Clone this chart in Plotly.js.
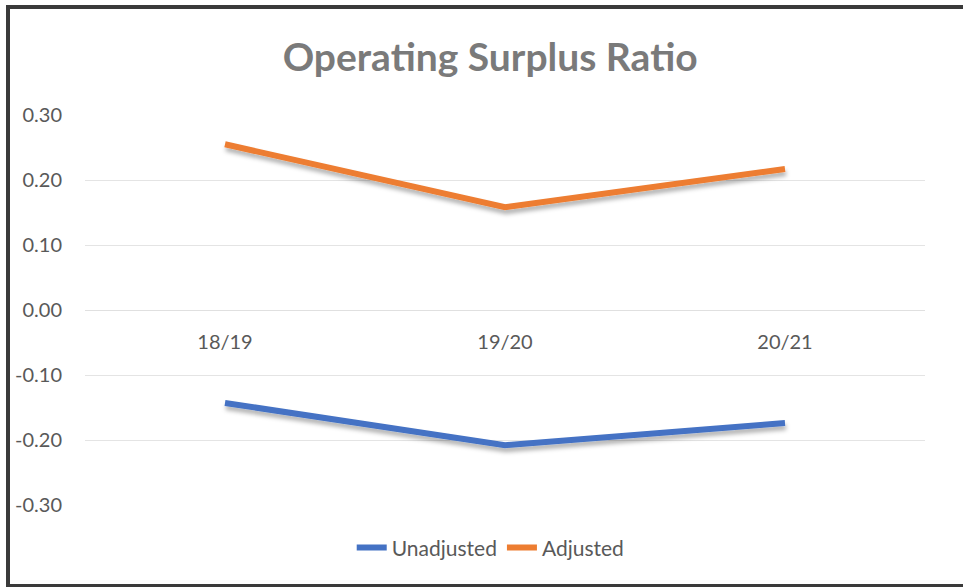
<!DOCTYPE html>
<html>
<head>
<meta charset="utf-8">
<script src="https://cdn.plot.ly/plotly-3.0.1.min.js"></script>
<style>
  html, body { margin: 0; padding: 0; background: #ffffff; }
  #wrap { position: relative; width: 963px; height: 587px; overflow: hidden; }
  #chart { width: 963px; height: 587px; }
  #frame { position: absolute; left: 6px; top: 5px; width: 980px; height: 575px;
           border-left: 4px solid #3a3a3a; border-top: 4px solid #3a3a3a; border-bottom: 4px solid #3a3a3a;
           pointer-events: none; }
</style>
</head>
<body>
<div id="wrap">
  <div id="chart"></div>
  <div id="frame"></div>
</div>
<script>
const categories = ["18/19", "19/20", "20/21"];
const unadjusted = [-0.143, -0.208, -0.174];
const adjusted = [0.255, 0.158, 0.217];
const yTickVals = [-0.3, -0.2, -0.1, 0, 0.1, 0.2, 0.3];
const yTickText = ["-0.30", "-0.20", "-0.10", "0.00", "0.10", "0.20", "0.30"];
const chartTitle = "Operating Surplus Ratio";

const traces = [
  { x: categories, y: unadjusted, name: "Unadjusted", type: "scatter", mode: "lines",
    line: { color: "#4472C4", width: 6 } },
  { x: categories, y: adjusted, name: "Adjusted", type: "scatter", mode: "lines",
    line: { color: "#ED7D31", width: 6 } }
];

const layout = {
  width: 963, height: 587,
  paper_bgcolor: "#ffffff", plot_bgcolor: "#ffffff",
  margin: { l: 85, r: 38, t: 115, b: 82 },
  font: { family: "Lato, 'Open Sans', sans-serif", color: "#595959", size: 20 },
  title: { text: chartTitle, x: 0.509, xanchor: "center", y: 1 - 57/587, yanchor: "middle", yref: "container",
           font: { family: "Lato, 'Open Sans', sans-serif", size: 39, color: "#7a7a7a", weight: "bold" } },
  xaxis: { type: "category", range: [-0.5, 2.5], anchor: "free", position: 0.5,
           showgrid: false, zeroline: false, showline: false, ticks: "",
           ticklabelstandoff: 18, tickfont: { size: 20, color: "#595959" } },
  yaxis: { range: [-0.3, 0.3], tickvals: yTickVals, ticktext: yTickText,
           showgrid: true, gridcolor: "#e4e4e4", gridwidth: 1, zeroline: true, zerolinecolor: "#e0e0e0", zerolinewidth: 1,
           showline: false, ticks: "", ticklabelstandoff: 22, tickfont: { size: 20, color: "#595959" } },
  showlegend: true,
  legend: { orientation: "h", x: 0.483, xanchor: "center", y: -0.11, yanchor: "middle",
            font: { size: 21, color: "#595959" }, bgcolor: "rgba(0,0,0,0)" }
};

Plotly.newPlot("chart", traces, layout, { displayModeBar: false, staticPlot: true }).then(function (gd) {
  const svgNS = "http://www.w3.org/2000/svg";
  const svg = gd.querySelector("svg.main-svg");
  let defs = svg.querySelector("defs");
  if (!defs) { defs = document.createElementNS(svgNS, "defs"); svg.insertBefore(defs, svg.firstChild); }
  const filter = document.createElementNS(svgNS, "filter");
  filter.setAttribute("id", "lineShadow");
  filter.setAttribute("x", "-10%"); filter.setAttribute("y", "-50%");
  filter.setAttribute("width", "120%"); filter.setAttribute("height", "200%");
  const ds = document.createElementNS(svgNS, "feDropShadow");
  ds.setAttribute("dx", "1"); ds.setAttribute("dy", "4");
  ds.setAttribute("stdDeviation", "2");
  ds.setAttribute("flood-color", "#000000"); ds.setAttribute("flood-opacity", "0.3");
  filter.appendChild(ds);
  defs.appendChild(filter);
  gd.querySelectorAll(".scatterlayer .trace").forEach(function (t) { t.setAttribute("filter", "url(#lineShadow)"); });
});
</script>
</body>
</html>
